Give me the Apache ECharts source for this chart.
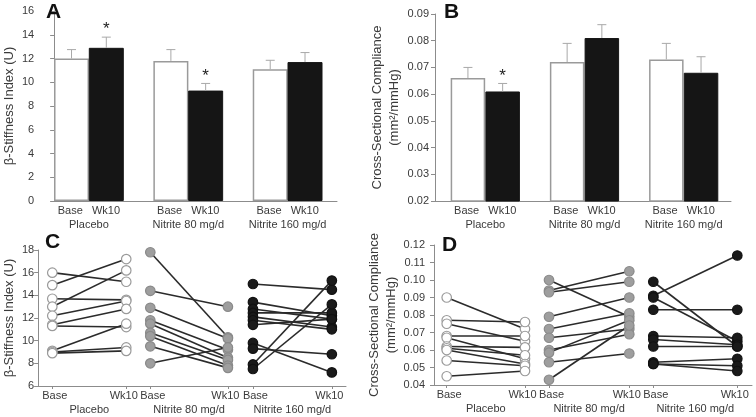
<!DOCTYPE html>
<html>
<head>
<meta charset="utf-8">
<title>Nitrite β-stiffness / compliance</title>
<script src="https://cdn.jsdelivr.net/npm/echarts@6.0.0/dist/echarts.min.js"></script>
<style>
html, body { margin: 0; padding: 0; background: #fff; }
#main { width: 756px; height: 417px; }
</style>
</head>
<body>
<div id="main"></div>
<script>
// 分组和时间点
var groups = ['Placebo', 'Nitrite 80 mg/d', 'Nitrite 160 mg/d']
var phases = ['Base', 'Wk10']

// A: β-Stiffness 均值 和 误差
var stiffBase = [12.0, 11.8, 11.1]
var stiffBaseErr = [0.75, 0.95, 0.75]
var stiffWk10 = [12.9, 9.3, 11.7]
var stiffWk10Err = [0.9, 0.6, 0.8]
var stiffStar = [1, 1, 0]

// B: Cross-Sectional Compliance 均值 和 误差
var complBase = [0.066, 0.072, 0.073]
var complBaseErr = [0.004, 0.007, 0.006]
var complWk10 = [0.061, 0.081, 0.068]
var complWk10Err = [0.003, 0.005, 0.006]
var complStar = [1, 0, 0]

// C: 个体 β-Stiffness
var stiffPlaceboBase = [16.0, 14.9, 13.7, 13.0, 12.2, 11.4, 11.3, 9.1, 9.0, 8.9]
var stiffPlaceboWk10 = [15.2, 17.2, 13.6, 16.2, 13.5, 12.8, 11.2, 11.5, 9.4, 9.1]
var stiffN80Base = [17.8, 14.4, 12.9, 11.8, 11.5, 10.7, 10.4, 9.5, 8.0]
var stiffN80Wk10 = [10.3, 13.0, 10.2, 9.2, 8.5, 8.3, 7.8, 7.6, 9.4]
var stiffN160Base = [15.0, 13.4, 12.8, 12.45, 12.1, 11.8, 11.4, 9.8, 9.3, 7.9, 7.5]
var stiffN160Wk10 = [14.5, 12.2, 11.9, 12.45, 11.2, 11.0, 11.9, 7.2, 8.8, 15.3, 13.2]

// D: 个体 Compliance
var complPlaceboBase = [0.090, 0.077, 0.075, 0.068, 0.067, 0.062, 0.061, 0.060, 0.054, 0.045]
var complPlaceboWk10 = [0.072, 0.076, 0.065, 0.068, 0.055, 0.0615, 0.057, 0.052, 0.051, 0.048]
var complN80Base = [0.100, 0.094, 0.093, 0.079, 0.072, 0.067, 0.060, 0.0585, 0.053, 0.043]
var complN80Wk10 = [0.079, 0.105, 0.099, 0.090, 0.081, 0.072, 0.069, 0.077, 0.058, 0.074]
var complN160Base = [0.099, 0.091, 0.090, 0.083, 0.068, 0.066, 0.062, 0.053, 0.052, 0.052]
var complN160Wk10 = [0.062, 0.114, 0.065, 0.083, 0.067, 0.063, 0.062, 0.055, 0.051, 0.048]

// 版面: 柱子相对组中心的偏移, 点图每组 Base/Wk10 的横向位置(像素)
var barShift = 0.175
var cPos = [[14.3, 89], [113.3, 191.7], [217, 296.7]]
var dPos = [[12.7, 91], [115, 195.3], [219.3, 303.3]]

var font = '"Liberation Sans", Arial, sans-serif'
var axisGrey = '#8c8c8c'
var textColor = '#3a3a3a'

var chart = echarts.init(document.getElementById('main'))

var renderErr = function(params, api) {
    var x = api.value(0)
    var y = api.value(1)
    var e = api.value(2)
    var p0 = api.coord([x, y])
    var p1 = api.coord([x, y + e])
    var st = {stroke: '#a8a8a8', lineWidth: 1}
    var children = [
        {type: 'line', shape: {x1: p0[0], y1: p0[1], x2: p1[0], y2: p1[1]}, style: st},
        {type: 'line', shape: {x1: p1[0] - 4.5, y1: p1[1], x2: p1[0] + 4.5, y2: p1[1]}, style: st},
    ]
    if (api.value(3) > 0) {
        children.push({
            type: 'text', x: p1[0], y: p1[1] + 1,
            style: {text: '*', font: '17px ' + font, fill: '#222', align: 'center', verticalAlign: 'bottom'}
        })
    }
    return {type: 'group', children: children}
}

var makeBars = function(base, baseErr, wk, wkErr, star, xi, yi, width) {
    var b = []
    var w = []
    var e = []
    for (var i = 0; i < base.length; i++) {
        b.push([i - barShift, base[i]])
        w.push([i + barShift, wk[i]])
        e.push([i - barShift, base[i], baseErr[i], 0])
        e.push([i + barShift, wk[i], wkErr[i], star[i]])
    }
    return [
        {type: 'bar', xAxisIndex: xi, yAxisIndex: yi, data: b, barWidth: width, barGap: '-100%',
         itemStyle: {color: '#fff', borderColor: '#9a9a9a', borderWidth: 1.5}},
        {type: 'bar', xAxisIndex: xi, yAxisIndex: yi, data: w, barWidth: width, barGap: '-100%',
         itemStyle: {color: '#151515', borderColor: '#151515', borderWidth: 1}},
        {type: 'custom', xAxisIndex: xi, yAxisIndex: yi, data: e, renderItem: renderErr,
         encode: {x: 0, y: 1}, z: 5},
    ]
}

var dotStyles = [
    {color: '#fff', borderColor: '#9a9a9a'},
    {color: '#9e9e9e', borderColor: '#8a8a8a'},
    {color: '#1a1a1a', borderColor: '#111'},
]

var makeDots = function(baseList, wkList, pos, xi, yi) {
    var series = []
    for (var g = 0; g < baseList.length; g++) {
        var base = baseList[g]
        var wk = wkList[g]
        var pts = []
        for (var k = 0; k < base.length; k++) {
            series.push({
                type: 'line', xAxisIndex: xi, yAxisIndex: yi, silent: true, symbol: 'none', z: 2,
                data: [[pos[g][0], base[k]], [pos[g][1], wk[k]]],
                lineStyle: {color: '#2b2b2b', width: 1.6},
            })
            pts.push([pos[g][0], base[k]])
            pts.push([pos[g][1], wk[k]])
        }
        series.push({
            type: 'scatter', xAxisIndex: xi, yAxisIndex: yi, data: pts, symbolSize: 9.5, z: 3,
            itemStyle: {color: dotStyles[g].color, borderColor: dotStyles[g].borderColor, borderWidth: 1.2, opacity: 1},
        })
    }
    return series
}

// 柱状图 x 轴: 组名放第二条轴
var barAxes = function(gi, min, max) {
    return [
        {type: 'value', gridIndex: gi, min: min, max: max, splitLine: {show: false},
         axisLine: {onZero: false, lineStyle: {color: axisGrey}}, axisTick: {show: false},
         axisLabel: {customValues: [0, 1, 2], margin: 4, fontSize: 11, color: textColor,
                     formatter: function() { return phases[0] + '   ' + phases[1] }}},
        {type: 'value', gridIndex: gi, min: min, max: max, position: 'bottom', offset: 14,
         splitLine: {show: false}, axisLine: {show: false, onZero: false}, axisTick: {show: false},
         axisLabel: {customValues: [0, 1, 2], margin: 4, fontSize: 11, color: textColor,
                     formatter: function(v) { return groups[Math.round(v)] }}},
    ]
}

// 点图 x 轴
var dotAxes = function(gi, pos, max) {
    var vals = []
    var mids = []
    for (var g = 0; g < pos.length; g++) {
        vals.push(pos[g][0], pos[g][1])
        mids.push((pos[g][0] + pos[g][1]) / 2)
    }
    return [
        {type: 'value', gridIndex: gi, min: 0, max: max, splitLine: {show: false},
         axisLine: {onZero: false, lineStyle: {color: axisGrey}},
         axisTick: {customValues: vals, length: 3, lineStyle: {color: axisGrey}},
         axisLabel: {customValues: vals, margin: 4, fontSize: 11, color: textColor,
                     formatter: function(v) {
                         var i = vals.indexOf(v) % 2
                         return i == 0 ? '{b|' + phases[0] + '}' : '{w|' + phases[1] + '}'
                     },
                     rich: {b: {fontSize: 11, color: textColor, padding: [0, 0, 0, 5]},
                            w: {fontSize: 11, color: textColor, padding: [0, 5, 0, 0]}}}},
        {type: 'value', gridIndex: gi, min: 0, max: max, position: 'bottom', offset: 14,
         splitLine: {show: false}, axisLine: {show: false, onZero: false}, axisTick: {show: false},
         axisLabel: {customValues: mids, margin: 4, fontSize: 11, color: textColor,
                     formatter: function(v) { return groups[mids.indexOf(v)] }}},
    ]
}

var yAxis = function(gi, min, max, interval, name, gap, margin, digits) {
    return {
        type: 'value', gridIndex: gi, min: min, max: max, interval: interval,
        splitLine: {show: false},
        axisLine: {show: true, onZero: false, lineStyle: {color: axisGrey}},
        axisTick: {show: true, length: 4, lineStyle: {color: axisGrey}},
        axisLabel: {margin: margin, fontSize: 11, color: textColor,
                    formatter: function(v) { return v.toFixed(digits) }},
        name: name, nameLocation: 'middle', nameGap: gap,
        nameTextStyle: {fontSize: 13, color: textColor, lineHeight: 17},
    }
}

var complName = 'Cross-Sectional Compliance\n(mm²/mmHg)'
var stiffName = 'β-Stiffness Index (U)'

var letter = function(t, x, y) {
    return {text: t, left: x, top: y, padding: 0,
            textStyle: {fontSize: 21, fontWeight: 'bold', color: '#111', fontFamily: font}}
}

var series = []
series = series.concat(makeBars(stiffBase, stiffBaseErr, stiffWk10, stiffWk10Err, stiffStar, 0, 0, 35))
series = series.concat(makeBars(complBase, complBaseErr, complWk10, complWk10Err, complStar, 2, 1, 34.5))
series = series.concat(makeDots([stiffPlaceboBase, stiffN80Base, stiffN160Base],
                                [stiffPlaceboWk10, stiffN80Wk10, stiffN160Wk10], cPos, 4, 2))
series = series.concat(makeDots([complPlaceboBase, complN80Base, complN160Base],
                                [complPlaceboWk10, complN80Wk10, complN160Wk10], dPos, 6, 3))

var option = {
    animation: false,
    backgroundColor: '#fff',
    textStyle: {fontFamily: font},
    title: [letter('A', 46, 2), letter('B', 444, 2), letter('C', 45, 232), letter('D', 442, 235)],
    grid: [
        {left: 52, top: 11, width: 285, height: 190},
        {left: 435, top: 14, width: 296, height: 187},
        {left: 35, top: 250, width: 311, height: 136},
        {left: 434, top: 245, width: 318, height: 140},
    ],
    xAxis: [].concat(
        barAxes(0, -0.35, 2.497),
        barAxes(1, -0.507, 2.477),
        dotAxes(2, cPos, 311),
        dotAxes(3, dPos, 318)
    ),
    yAxis: [
        yAxis(0, 0, 16, 2, stiffName, 33, 20, 0),
        yAxis(1, 0.02, 0.09, 0.01, complName, 32, 6, 2),
        yAxis(2, 6, 18, 2, stiffName, 19, 4, 0),
        yAxis(3, 0.04, 0.12, 0.01, complName, 32, 9, 2),
    ],
    series: series,
}

chart.setOption(option)
</script>
</body>
</html>
